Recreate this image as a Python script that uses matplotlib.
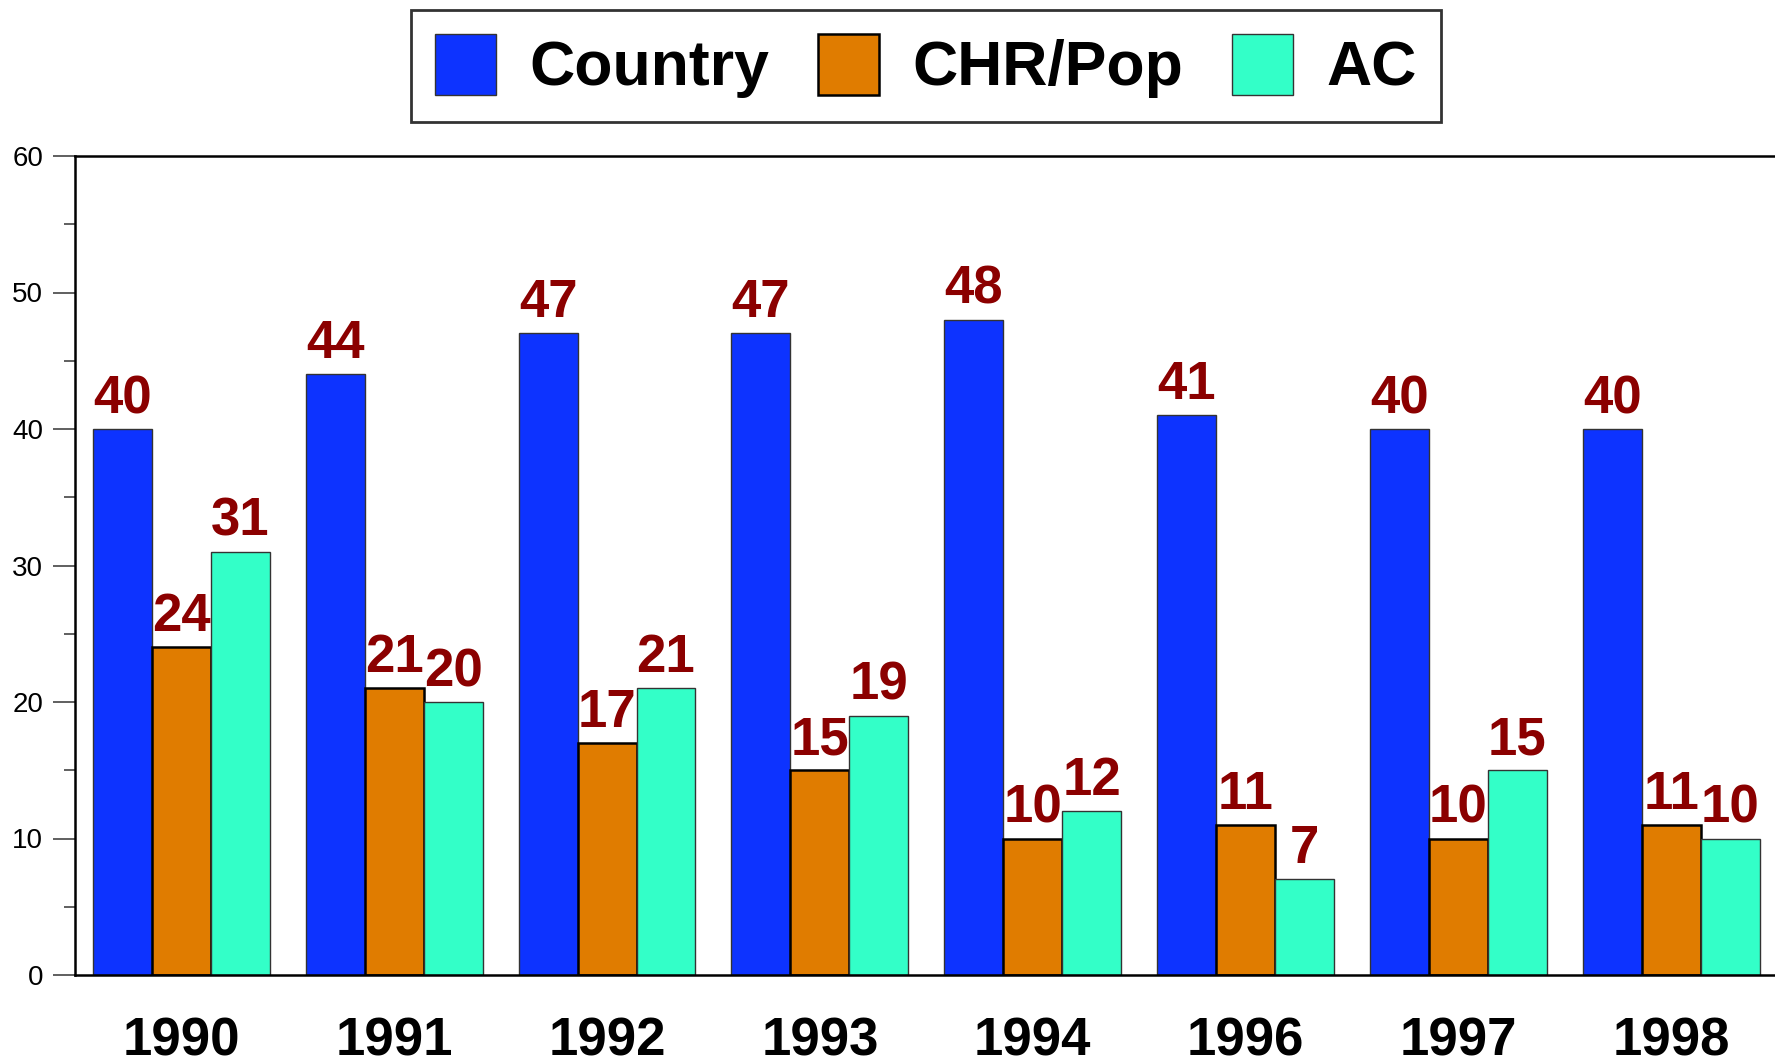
import matplotlib
matplotlib.use("Agg")
import matplotlib.pyplot as plt
from matplotlib.ticker import MultipleLocator
from matplotlib.patches import Patch
import numpy as np

years = ['1990', '1991', '1992', '1993', '1994', '1996', '1997', '1998']
country = [40, 44, 47, 47, 48, 41, 40, 40]
chr_pop = [24, 21, 17, 15, 10, 11, 10, 11]
ac = [31, 20, 21, 19, 12, 7, 15, 10]
series_names = ['Country', 'CHR/Pop', 'AC']

plt.rcParams['font.family'] = ['Liberation Sans', 'DejaVu Sans']

W, H = 1775, 1062
fig = plt.figure(figsize=(W / 100, H / 100), dpi=100)
ax = fig.add_axes([75 / W, 1 - 975 / H, (1777.5 - 75) / W, (975 - 156) / H])

colors = ['#0D33FF', '#E07C00', '#33FFC8']
edges = ['#333333', '#000000', '#333333']
elw = [1.0, 1.8, 1.0]
x = np.arange(len(years))
w = 0.277
for i, (vals, c, ec, lw) in enumerate(zip([country, chr_pop, ac], colors, edges, elw)):
    xs = x + (i - 1) * w
    ax.bar(xs, vals, width=w, color=c, edgecolor=ec, linewidth=lw, zorder=2)
    for xi, v in zip(xs, vals):
        ax.annotate(str(v), (xi, v), xytext=(0, 11.5), textcoords='offset points',
                    ha='center', va='baseline', fontsize=38, fontweight='bold',
                    color='#8B0000', zorder=3, annotation_clip=False)

ax.set_xlim(-0.5, 7.5)
ax.set_ylim(0, 60)
ax.yaxis.set_major_locator(MultipleLocator(10))
ax.yaxis.set_minor_locator(MultipleLocator(5))
ax.tick_params(axis='y', which='major', length=16, width=1.2, color='#444444',
               labelsize=20, pad=7)
ax.tick_params(axis='y', which='minor', length=8, width=1.2, color='#444444')
ax.set_xticks(x)
ax.set_xticklabels(years, fontsize=38, fontweight='bold')
ax.tick_params(axis='x', length=0, pad=30)
ax.spines['right'].set_visible(False)
for s in ['left', 'bottom', 'top']:
    ax.spines[s].set_linewidth(1.8)
    ax.spines[s].set_color('black')

handles = [Patch(facecolor=c, edgecolor=ec, linewidth=lw) for c, ec, lw in zip(colors, edges, elw)]
leg = fig.legend(handles, series_names, loc='upper center', bbox_to_anchor=(926 / W, 1 - 10 / H),
                 ncol=3, frameon=True, fancybox=False, edgecolor='black',
                 prop={'size': 45, 'weight': 'bold'}, handlelength=0.98, handleheight=1.12,
                 handletextpad=0.54, columnspacing=0.77, borderpad=0.38, borderaxespad=0)
leg.get_frame().set_linewidth(2)

fig.savefig('out.png', dpi=100)
